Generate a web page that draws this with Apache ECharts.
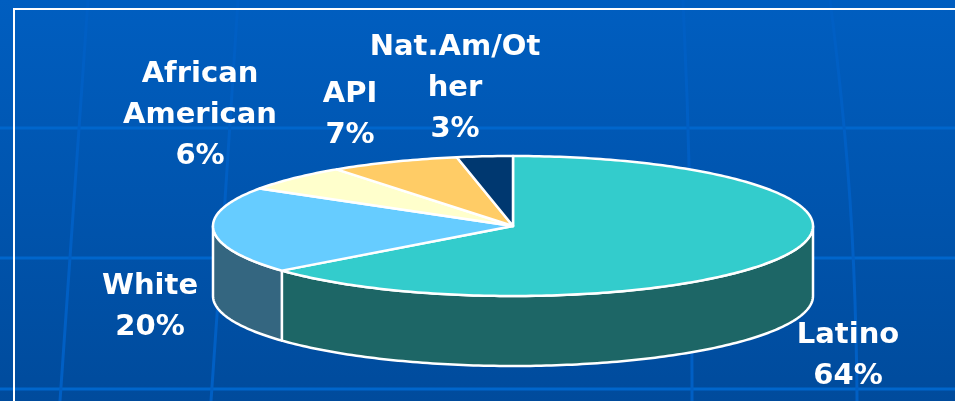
<!DOCTYPE html>
<html><head><meta charset="utf-8">
<script src="https://cdn.jsdelivr.net/npm/echarts@6/dist/echarts.min.js"></script>
<style>html,body{margin:0;padding:0;background:#0058b4;overflow:hidden}#c{width:955px;height:401px}</style>
</head><body><div id="c"></div>
<script>
// ---- data ----
const categories = ['Latino', 'White', 'African American', 'API', 'Nat.Am/Other'];
const values = [64, 20, 6, 7, 3];
const labelNames = ['Latino', 'White', 'African\nAmerican', 'API', 'Nat.Am/Ot\nher'];

// ---- styles / layout ----
const topColors = ['#33CCCC', '#66CCFF', '#FFFFCC', '#FFCC66', '#003870'];
const sideColors = ['#1D6666', '#346680', '#808066', '#806633', '#001C38'];
const PIE = {cx: 513, cy: 226, rx: 300, ry: 70, depth: 70};
const labelOffsets = [[335, 130], [-363, 81], [-313, -111], [-163, -111], [-58, -138]];

const total = values.reduce((s, v) => s + v, 0);
const starts = [];
values.reduce((acc, v, i) => { starts[i] = acc; return acc + v; }, 0);

function pt(th, dy) {
  return [PIE.cx + PIE.rx * Math.sin(th), PIE.cy - PIE.ry * Math.cos(th) + (dy || 0)];
}
function arc(a, b, dy) {
  const pts = [];
  const n = Math.max(2, Math.ceil((b - a) / (Math.PI / 180)));
  for (let k = 0; k <= n; k++) pts.push(pt(a + (b - a) * k / n, dy));
  return pts;
}

const chart = echarts.init(document.getElementById('c'), null, {renderer: 'canvas'});

const bgGraphics = [
  {type: 'rect', z: -10, shape: {x: 0, y: 0, width: 955, height: 401},
   style: {fill: new echarts.graphic.LinearGradient(0, 0, 0, 1, [
     {offset: 0, color: '#005EC0'}, {offset: 1, color: '#004B9C'}])}},
];
[128, 258, 389].forEach(y => bgGraphics.push({type: 'line', z: -9,
  shape: {x1: 0, y1: y, x2: 955, y2: y}, style: {stroke: '#0066CC', lineWidth: 3}}));
[[[88, 0], [74, 200], [60, 401]], [[238, 0], [225, 200], [211, 401]],
 [[683, 0], [690, 200], [692, 401]], [[830, 0], [850, 200], [857, 401]]].forEach(p =>
  bgGraphics.push({type: 'polyline', z: -9, shape: {points: p, smooth: 0.5},
    style: {stroke: '#005FC4', lineWidth: 3, fill: null}}));
bgGraphics.push({type: 'rect', z: -8, shape: {x: 14, y: 9, width: 1000, height: 450},
  style: {fill: null, stroke: '#FFFFFF', lineWidth: 2}});

chart.setOption({
  animation: false,
  graphic: {elements: bgGraphics},
  series: [{
    type: 'custom',
    coordinateSystem: 'none',
    z: 5,
    silent: true,
    data: values.map((v, i) => ({name: categories[i], value: v})),
    renderItem: function (params, api) {
      const i = params.dataIndex;
      const v = api.value(0);
      const a = starts[i] / total * Math.PI * 2;
      const b = a + v / total * Math.PI * 2;
      const children = [];
      // side (front half only)
      const s = Math.max(a, Math.PI / 2), e = Math.min(b, Math.PI * 1.5);
      if (e > s) {
        const pts = arc(s, e, 0).concat(arc(s, e, PIE.depth).reverse());
        children.push({type: 'polygon', z2: 1, shape: {points: pts},
          style: {fill: sideColors[i], stroke: '#FFFFFF', lineWidth: 2.5, lineJoin: 'round'}});
      }
      // top
      const tpts = [[PIE.cx, PIE.cy]].concat(arc(a, b, 0));
      children.push({type: 'polygon', z2: 10, shape: {points: tpts},
        style: {fill: topColors[i], stroke: '#FFFFFF', lineWidth: 2.5, lineJoin: 'round'}});
      // label
      const pct = Math.round(v / total * 100) + '%';
      children.push({type: 'text', z2: 20,
        x: PIE.cx + labelOffsets[i][0], y: PIE.cy + labelOffsets[i][1],
        style: {text: labelNames[i] + '\n' + pct, fill: '#FFFFFF',
          font: 'bold 29px "DejaVu Sans"', lineHeight: 41,
          align: 'center', verticalAlign: 'middle'}});
      return {type: 'group', children: children};
    }
  }]
});
</script>
</body></html>
